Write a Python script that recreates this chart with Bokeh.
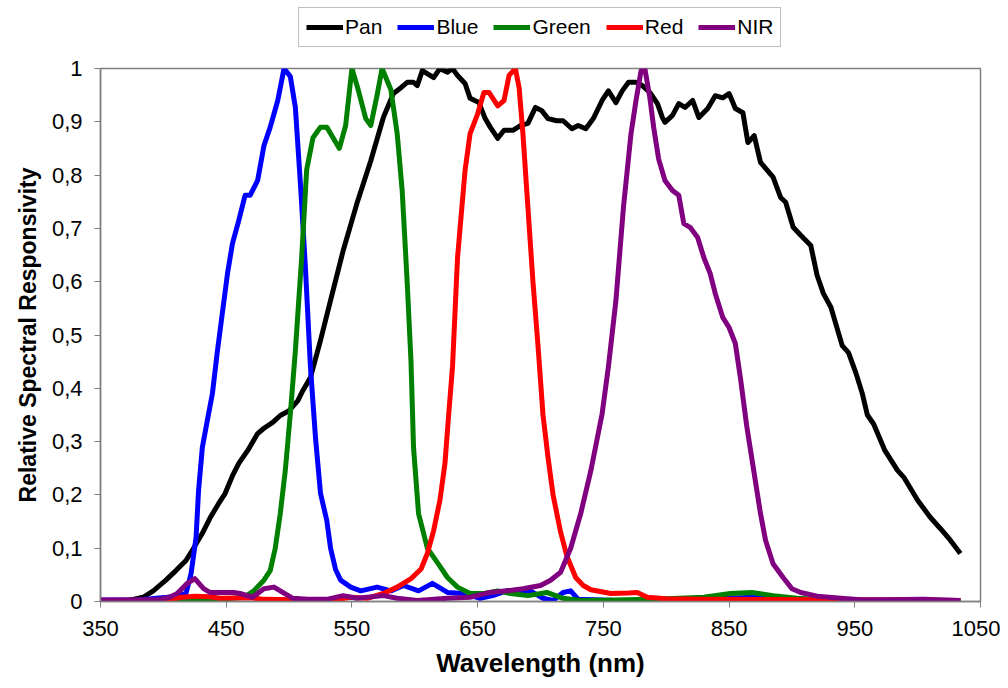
from bokeh.plotting import figure
from bokeh.layouts import column
from bokeh.models import Range1d, FixedTicker, CustomJSTickFormatter, Legend, LegendItem
from bokeh.embed import file_html
from bokeh.resources import INLINE

# ---- data (wavelength in nm, relative spectral responsivity) ----
pan_nm = [350, 360, 370, 374, 384, 392, 402, 410, 418, 424, 431, 437, 444, 449, 455, 460, 467, 475,
          480, 487, 493, 500, 507, 511, 517, 525, 533, 543, 554, 565, 575, 583, 589, 594, 599, 602,
          606, 615, 620, 626, 630, 634, 640, 644, 651, 656, 660, 666, 671, 678, 684, 690, 696, 701,
          706, 713, 718, 725, 730, 736, 742, 749, 754, 760, 765, 770, 776, 781, 787, 793, 797, 799,
          805, 810, 815, 821, 826, 833, 839, 845, 850, 855, 861, 865, 870, 875, 885, 891, 895, 901,
          907, 915, 920, 925, 931, 940, 945, 951, 956, 960, 965, 974, 984, 989, 1000, 1010, 1018,
          1026, 1034]
pan_val = [0.002, 0.002, 0.002, 0.003, 0.008, 0.02, 0.04, 0.058, 0.077, 0.1, 0.128, 0.156, 0.184,
           0.202, 0.236, 0.259, 0.283, 0.315, 0.325, 0.336, 0.349, 0.358, 0.377, 0.396, 0.42, 0.49,
           0.565, 0.658, 0.747, 0.827, 0.908, 0.953, 0.964, 0.974, 0.974, 0.968, 0.996, 0.983, 1.0,
           0.993, 1.0, 0.987, 0.972, 0.944, 0.936, 0.906, 0.89, 0.869, 0.884, 0.884, 0.893, 0.897,
           0.927, 0.921, 0.906, 0.902, 0.902, 0.887, 0.893, 0.887, 0.906, 0.94, 0.958, 0.936, 0.958,
           0.974, 0.974, 0.968, 0.955, 0.934, 0.908, 0.899, 0.912, 0.934, 0.927, 0.94, 0.908, 0.925,
           0.949, 0.945, 0.953, 0.925, 0.917, 0.861, 0.874, 0.824, 0.796, 0.758, 0.749, 0.702, 0.687,
           0.668, 0.612, 0.578, 0.552, 0.48, 0.467, 0.428, 0.39, 0.35, 0.333, 0.283, 0.246, 0.233,
           0.19, 0.158, 0.137, 0.115, 0.09]

blue_nm = [350, 380, 403, 412, 418, 422, 426, 428, 431, 435, 439, 443, 451, 455, 460, 465, 469, 475,
           480, 485, 491, 496, 501, 505, 509, 513, 517, 521, 525, 530, 533, 537, 541, 549, 557, 570,
           581, 591, 603, 614, 626, 639, 652, 662, 673, 692, 702, 710, 718, 724, 730, 760, 800, 850,
           870, 890, 950, 1000, 1034]
blue_val = [0.003, 0.003, 0.008, 0.011, 0.015, 0.052, 0.12, 0.208, 0.289, 0.34, 0.39, 0.47, 0.615,
            0.672, 0.715, 0.762, 0.762, 0.79, 0.855, 0.89, 0.94, 1.0, 0.985, 0.927, 0.785, 0.627,
            0.44, 0.308, 0.203, 0.152, 0.1, 0.06, 0.04, 0.027, 0.02, 0.027, 0.02, 0.03, 0.02, 0.034,
            0.017, 0.015, 0.006, 0.011, 0.02, 0.02, 0.006, 0.002, 0.017, 0.02, 0.004, 0.002, 0.002,
            0.006, 0.008, 0.004, 0.003, 0.002, 0.002]

green_nm = [350, 400, 420, 445, 464, 472, 480, 485, 489, 493, 497, 501, 505, 510, 514, 519, 525, 530,
            535, 540, 545, 550, 555, 561, 565, 570, 574, 581, 586, 590, 594, 597, 599, 603, 610, 618,
            626, 634, 644, 655, 666, 676, 690, 705, 718, 732, 760, 800, 830, 851, 868, 885, 904, 930,
            1034]
green_val = [0.002, 0.002, 0.004, 0.004, 0.008, 0.02, 0.04, 0.058, 0.1, 0.165, 0.246, 0.352, 0.47,
             0.645, 0.81, 0.87, 0.89, 0.89, 0.87, 0.85, 0.893, 1.0, 0.96, 0.906, 0.893, 0.95, 1.0,
             0.96, 0.878, 0.77, 0.597, 0.45, 0.289, 0.165, 0.1, 0.073, 0.045, 0.027, 0.015, 0.015,
             0.02, 0.015, 0.011, 0.017, 0.006, 0.002, 0.003, 0.005, 0.008, 0.015, 0.017, 0.011, 0.006,
             0.003, 0.002]

red_nm = [350, 400, 415, 425, 437, 445, 470, 480, 520, 533, 549, 562, 575, 586, 597, 605, 610, 615,
          620, 624, 627, 630, 634, 640, 644, 650, 655, 659, 666, 671, 675, 680, 683, 686, 690, 694,
          698, 702, 706, 710, 716, 721, 728, 734, 740, 756, 770, 777, 785, 800, 830, 1034]
red_val = [0.002, 0.003, 0.008, 0.01, 0.009, 0.006, 0.007, 0.004, 0.003, 0.002, 0.008, 0.006, 0.015,
           0.027, 0.043, 0.061, 0.09, 0.133, 0.19, 0.259, 0.352, 0.44, 0.645, 0.809, 0.878, 0.915,
           0.955, 0.955, 0.93, 0.94, 0.987, 1.0, 0.964, 0.878, 0.739, 0.6, 0.48, 0.35, 0.27, 0.2,
           0.13, 0.085, 0.045, 0.03, 0.022, 0.015, 0.016, 0.017, 0.008, 0.005, 0.004, 0.002]

nir_nm = [350, 395, 405, 411, 419, 425, 432, 437, 445, 456, 461, 471, 480, 488, 495, 503, 515, 530,
          543, 554, 575, 586, 602, 626, 644, 660, 673, 686, 700, 708, 716, 724, 732, 740, 749, 754,
          760, 766, 772, 776, 780, 783, 787, 790, 794, 799, 805, 810, 814, 819, 825, 830, 835, 839,
          845, 850, 855, 859, 864, 870, 875, 879, 885, 893, 900, 907, 920, 939, 957, 1005, 1034]
nir_val = [0.003, 0.003, 0.008, 0.015, 0.034, 0.043, 0.024, 0.017, 0.017, 0.017, 0.015, 0.008, 0.024,
           0.027, 0.017, 0.006, 0.004, 0.004, 0.011, 0.006, 0.011, 0.006, 0.002, 0.006, 0.008, 0.017,
           0.02, 0.024, 0.03, 0.04, 0.055, 0.1, 0.165, 0.245, 0.352, 0.44, 0.565, 0.74, 0.878, 0.94,
           0.996, 1.0, 0.945, 0.89, 0.83, 0.79, 0.771, 0.762, 0.709, 0.702, 0.683, 0.645, 0.615,
           0.578, 0.533, 0.514, 0.484, 0.42, 0.33, 0.24, 0.165, 0.115, 0.071, 0.045, 0.024, 0.017,
           0.01, 0.006, 0.003, 0.004, 0.002]

series_names = ["Pan", "Blue", "Green", "Red", "NIR"]
series_colors = ["#000000", "#0000FF", "#008000", "#FF0000", "#800080"]
x_ticks = [350, 450, 550, 650, 750, 850, 950, 1050]
y_ticks = [0, 0.1, 0.2, 0.3, 0.4, 0.5, 0.6, 0.7, 0.8, 0.9, 1.0]

FONT = "Liberation Sans"
LW = 5
data = [(pan_nm, pan_val), (blue_nm, blue_val), (green_nm, green_val),
        (red_nm, red_val), (nir_nm, nir_val)]

# ---------------- legend strip (top) ----------------
LEG_H = 52
leg = figure(width=1000, height=LEG_H, output_backend="svg", toolbar_location=None,
             x_range=Range1d(0, 1), y_range=Range1d(0, 1),
             x_axis_location=None, y_axis_location=None, min_border=0)
leg.xgrid.visible = False
leg.ygrid.visible = False
leg.outline_line_color = None
leg.background_fill_color = "white"
leg.border_fill_color = "white"

items = []
for (xs, ys), name, col in zip(data, series_names, series_colors):
    # same series, drawn outside this strip's visible range: only its legend swatch shows
    r = leg.line(xs, ys, line_color=col, line_width=LW)
    items.append(LegendItem(label=name, renderers=[r]))

legend = Legend(items=items, orientation="horizontal", location=(198, 5),
                border_line_color="#808080", border_line_width=1.5,
                background_fill_color="white", background_fill_alpha=1.0,
                label_text_font=FONT, label_text_font_size="21px", label_text_color="black",
                glyph_width=37, glyph_height=20, label_standoff=2, spacing=15,
                padding=7, margin=0)
leg.add_layout(legend, "center")

# ---------------- main chart ----------------
p = figure(width=1000, height=680 - LEG_H, output_backend="svg", toolbar_location=None,
           x_range=Range1d(350, 1050), y_range=Range1d(0, 1),
           min_border_left=100, min_border_right=20, min_border_top=68 - LEG_H,
           min_border_bottom=79,
           x_axis_label="Wavelength (nm)", y_axis_label="Relative Spectral Responsivity")

p.xgrid.visible = False
p.ygrid.visible = False
p.outline_line_color = "#808080"
p.outline_line_width = 1.5
p.background_fill_color = "white"
p.border_fill_color = "white"

for ax in (p.xaxis[0], p.yaxis[0]):
    ax.axis_line_color = "#808080"
    ax.axis_line_width = 1.5
    ax.major_tick_line_color = "#808080"
    ax.major_tick_out = 6
    ax.major_tick_in = 0
    ax.minor_tick_line_color = None
    ax.major_label_text_font = FONT
    ax.major_label_text_font_size = "22px"
    ax.major_label_text_color = "black"
    ax.axis_label_text_font = FONT
    ax.axis_label_text_font_style = "bold"
    ax.axis_label_text_color = "black"

p.xaxis[0].ticker = FixedTicker(ticks=x_ticks)
p.yaxis[0].ticker = FixedTicker(ticks=y_ticks)
p.xaxis[0].major_label_standoff = 13
p.yaxis[0].major_label_standoff = 12
p.xaxis[0].axis_label_text_font_size = "26px"
p.yaxis[0].axis_label_text_font_size = "23px"
p.xaxis[0].axis_label_standoff = 9
p.yaxis[0].axis_label_standoff = 8
p.yaxis[0].formatter = CustomJSTickFormatter(
    code="return (Math.round(tick*10)/10).toString().replace('.', ',');")

for (xs, ys), col in zip(data, series_colors):
    p.line(xs, ys, line_color=col, line_width=LW, line_join="round")

layout = column(leg, p, spacing=0)
open("out.html", "w").write(file_html(layout, INLINE))
